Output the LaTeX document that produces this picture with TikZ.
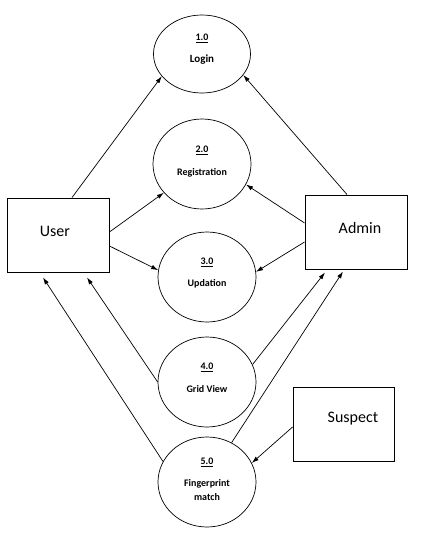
\documentclass[tikz,border=0pt]{standalone}
\usepackage{fontspec}
\setmainfont{Carlito}
\usetikzlibrary{shapes.geometric,arrows.meta}
\begin{document}
\begin{tikzpicture}[x=1pt,y=-1pt,
  proc/.style={draw,ellipse,line width=0.7pt,inner sep=0pt,minimum width=98pt,minimum height=90pt},
  ent/.style={draw,rectangle,line width=0.9pt,inner sep=0pt,minimum width=102pt,minimum height=74pt},
  num/.style={font=\fontsize{10}{12}\selectfont\bfseries},
  lbl/.style={font=\fontsize{10}{12}\selectfont\bfseries,align=center},
  etxt/.style={font=\fontsize{16}{18}\selectfont},
  flow/.style={line width=0.7pt,-{Latex[length=7pt,width=4.5pt]}}]
\useasboundingbox (0,0) rectangle (423,533);
% processes
\node[proc,minimum width=97pt,minimum height=78pt] (login) at (202,54) {};
\node[proc] (reg) at (202,164) {};
\node[proc] (upd) at (207,277) {};
\node[proc] (grid) at (207,382) {};
\node[proc] (fp) at (207,482) {};
\node[num] (n1) at (202,38) {\underline{1.0}};
\node[lbl,font=\fontsize{11}{13}\selectfont\bfseries] (l1) at (202,60) {Login};
\node[num] (n2) at (202,150) {\underline{2.0}};
\node[lbl] (l2) at (202,173) {Registration};
\node[num] (n3) at (207,262) {\underline{3.0}};
\node[lbl] (l3) at (207,284) {Updation};
\node[num] (n4) at (207,367) {\underline{4.0}};
\node[lbl] (l4) at (207,389) {Grid View};
\node[num] (n5) at (207,462) {\underline{5.0}};
\node[lbl,font=\fontsize{10}{14}\selectfont\bfseries] (l5) at (207,490) {Fingerprint\\match};
% entities
\node[ent] (user) at (58,235) {};
\node[etxt] (tu) at (55,231) {User};
\node[ent] (admin) at (356,232) {};
\node[etxt] (ta) at (360,228) {Admin};
\node[ent,minimum width=101pt] (susp) at (343.5,424) {};
\node[etxt] (ts) at (353,419) {Suspect};
% flows
\draw[flow] ([xshift=14pt]user.north) -- (login.209);
\draw[flow] ([xshift=-9pt]admin.north) -- (login.333);
\draw[flow] ([yshift=3pt]user.east) -- (reg.217);
\draw[flow] ([yshift=9pt]admin.west) -- (reg.335);
\draw[flow] ([yshift=-11pt]user.east) -- (upd.172);
\draw[flow] ([yshift=-10pt]admin.west) -- (upd.6);
\draw[flow] (grid.180) -- ([xshift=29pt,yshift=-5pt]user.south);
\draw[flow] (grid.21) -- ([xshift=-31pt,yshift=-3pt]admin.south);
\draw[flow] (fp.155) -- ([xshift=-15pt,yshift=-5pt]user.south);
\draw[flow] (fp.58) -- ([xshift=-13pt,yshift=-2pt]admin.south);
\draw[flow] ([yshift=-3pt]susp.west) -- (fp.23);
\end{tikzpicture}
\end{document}
